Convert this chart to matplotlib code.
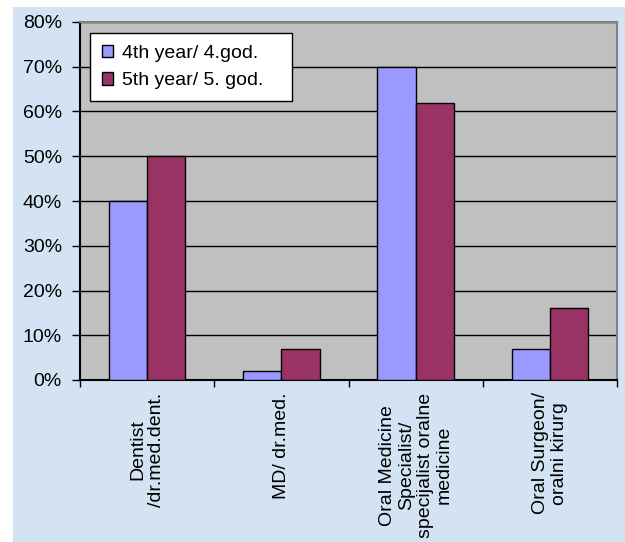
import numpy as np
import matplotlib
matplotlib.use("Agg")
import matplotlib.pyplot as plt
from matplotlib.patches import Rectangle

categories = ["Dentist\n/dr.med.dent.", "MD/ dr.med.",
              "Oral Medicine\nSpecialist/\nspecijalist oralne\nmedicine",
              "Oral Surgeon/\noralni kirurg"]
year4 = [40, 2, 70, 7]
year5 = [50, 7, 62, 16]
series_names = ["4th year/ 4.god.", "5th year/ 5. god."]
yticks = [0, 10, 20, 30, 40, 50, 60, 70, 80]

plt.rcParams["font.family"] = ["Liberation Sans", "DejaVu Sans"]
fs = 14

fig = plt.figure(figsize=(6.25, 5.42), dpi=100)
fig.patch.set_facecolor("white")
# light blue chart area (white strip on top and left)
bg = Rectangle((13 / 625, 0), 1 - 13 / 625, 1 - 7 / 542,
               transform=fig.transFigure, facecolor="#D3E3F3",
               edgecolor="none", zorder=-10)
fig.add_artist(bg)

ax = fig.add_axes([80 / 625, 1 - 380 / 542, 537 / 625, 358 / 542])
ax.set_facecolor("#C0C0C0")

x = np.arange(len(categories))
w = 1 / 3.5
ax.bar(x - w / 2, year4, width=w, color="#9999FF", edgecolor="black",
       linewidth=1, label=series_names[0], zorder=3)
ax.bar(x + w / 2, year5, width=w, color="#993366", edgecolor="black",
       linewidth=1, label=series_names[1], zorder=3)

ax.set_xlim(-0.5, len(categories) - 0.5)
ax.set_ylim(0, 80)
ax.set_yticks(yticks)
ax.set_yticklabels([f"{t}%" for t in yticks], fontsize=fs)
ax.yaxis.grid(True, color="black", linewidth=1, zorder=1)
ax.set_axisbelow(True)

# category boundary ticks, labels centred between them
ax.set_xticks(np.arange(len(categories) + 1) - 0.5)
ax.set_xticklabels([])
ax.set_xticks(x, minor=True)
ax.set_xticklabels(categories, minor=True, rotation=90, fontsize=fs,
                   ha="center", va="top", multialignment="center",
                   linespacing=1.15)
ax.tick_params(axis="x", which="minor", length=0, pad=9)
ax.tick_params(axis="x", which="major", length=5, width=1, direction="out")
ax.tick_params(axis="y", length=6, width=1, direction="out", pad=7)

for s in ["top", "right"]:
    ax.spines[s].set_color("#808080")
    ax.spines[s].set_linewidth(1.5)
for s in ["left", "bottom"]:
    ax.spines[s].set_color("black")
    ax.spines[s].set_linewidth(1.5)

leg = ax.legend(loc="upper left",
                bbox_to_anchor=(10 / 537, 278 / 358, 202 / 537, 69 / 358),
                mode="expand", borderaxespad=0, fontsize=fs, fancybox=False,
                framealpha=1, edgecolor="black", handlelength=0.6,
                handleheight=0.6, handletextpad=0.45, labelspacing=0.55,
                borderpad=0.6)
leg.get_frame().set_linewidth(1)
for h in leg.legend_handles:
    h.set_linewidth(1)

fig.savefig("out.png", dpi=100, facecolor=fig.get_facecolor())
